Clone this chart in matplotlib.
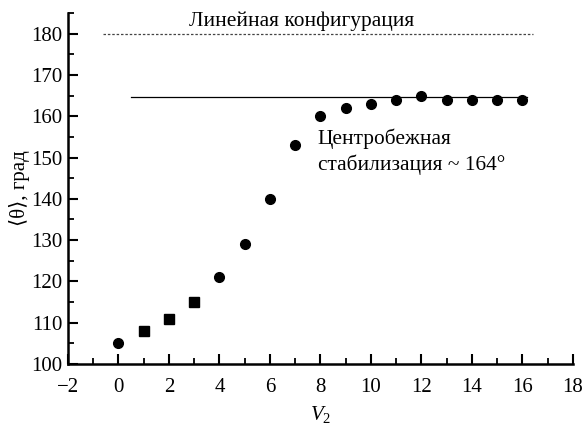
import matplotlib
matplotlib.use('Agg')
import matplotlib.pyplot as plt
from matplotlib.ticker import MultipleLocator

# data
v2 = [0, 1, 2, 3, 4, 5, 6, 7, 8, 9, 10, 11, 12, 13, 14, 15, 16]
theta = [105, 108, 111, 115, 121, 129, 140, 153, 160, 162, 163, 164, 165, 164, 164, 164, 164]
markers = ['o', 's', 's', 's', 'o', 'o', 'o', 'o', 'o', 'o', 'o', 'o', 'o', 'o', 'o', 'o', 'o']

linear_angle = 180
linear_span = [-0.6, 16.4]
centrifugal_angle = 164.6
centrifugal_span = [0.5, 16.2]

plt.rcParams['font.family'] = ['Liberation Serif', 'DejaVu Serif']
plt.rcParams['mathtext.fontset'] = 'custom'
plt.rcParams['mathtext.rm'] = 'Liberation Serif'
plt.rcParams['mathtext.it'] = 'Liberation Serif:italic'

fig = plt.figure(figsize=(5.87, 4.26), dpi=100)
ax = fig.add_axes([0.1158, 0.1455, 0.8602, 0.824])

for x, y, m in zip(v2, theta, markers):
    ax.plot(x, y, marker=m, color='black', markersize=7 if m == 'o' else 6.5, linestyle='none')

ax.plot(linear_span, [linear_angle, linear_angle], color='#444444', linewidth=0.9,
        linestyle=(0, (2.0, 1.5)))
ax.plot(centrifugal_span, [centrifugal_angle, centrifugal_angle], color='black', linewidth=0.9)

ax.text(7.25, 181.9, 'Линейная конфигурация', fontsize=15.4, ha='center', va='baseline')
ax.text(7.9, 151.4, 'Центробежная\nстабилизация ~ 164°', fontsize=15.4, ha='left', va='center',
        linespacing=1.35)

ax.set_xlim(-2, 18)
ax.set_ylim(100, 185)
ax.xaxis.set_minor_locator(MultipleLocator(1))
ax.yaxis.set_minor_locator(MultipleLocator(5))
ax.set_xticks(range(-2, 19, 2))
ax.set_yticks(range(100, 181, 10))

ax.spines['top'].set_visible(False)
ax.spines['right'].set_visible(False)
ax.spines['left'].set_linewidth(1.8)
ax.spines['bottom'].set_linewidth(1.8)
ax.tick_params(which='major', direction='in', length=7, width=1.5, labelsize=15, pad=4)
ax.tick_params(which='minor', direction='in', length=4, width=1.3)
ax.tick_params(axis='x', which='major', pad=10)
ax.set_xticklabels(['\u22122' if t < 0 else str(t) for t in range(-2, 19, 2)])

ax.set_xlabel('$V_2$', fontsize=15, labelpad=5)
ax.set_ylabel('\u27e8\u03b8\u27e9, град', fontsize=15, labelpad=1)

fig.savefig('out.png', dpi=100)
